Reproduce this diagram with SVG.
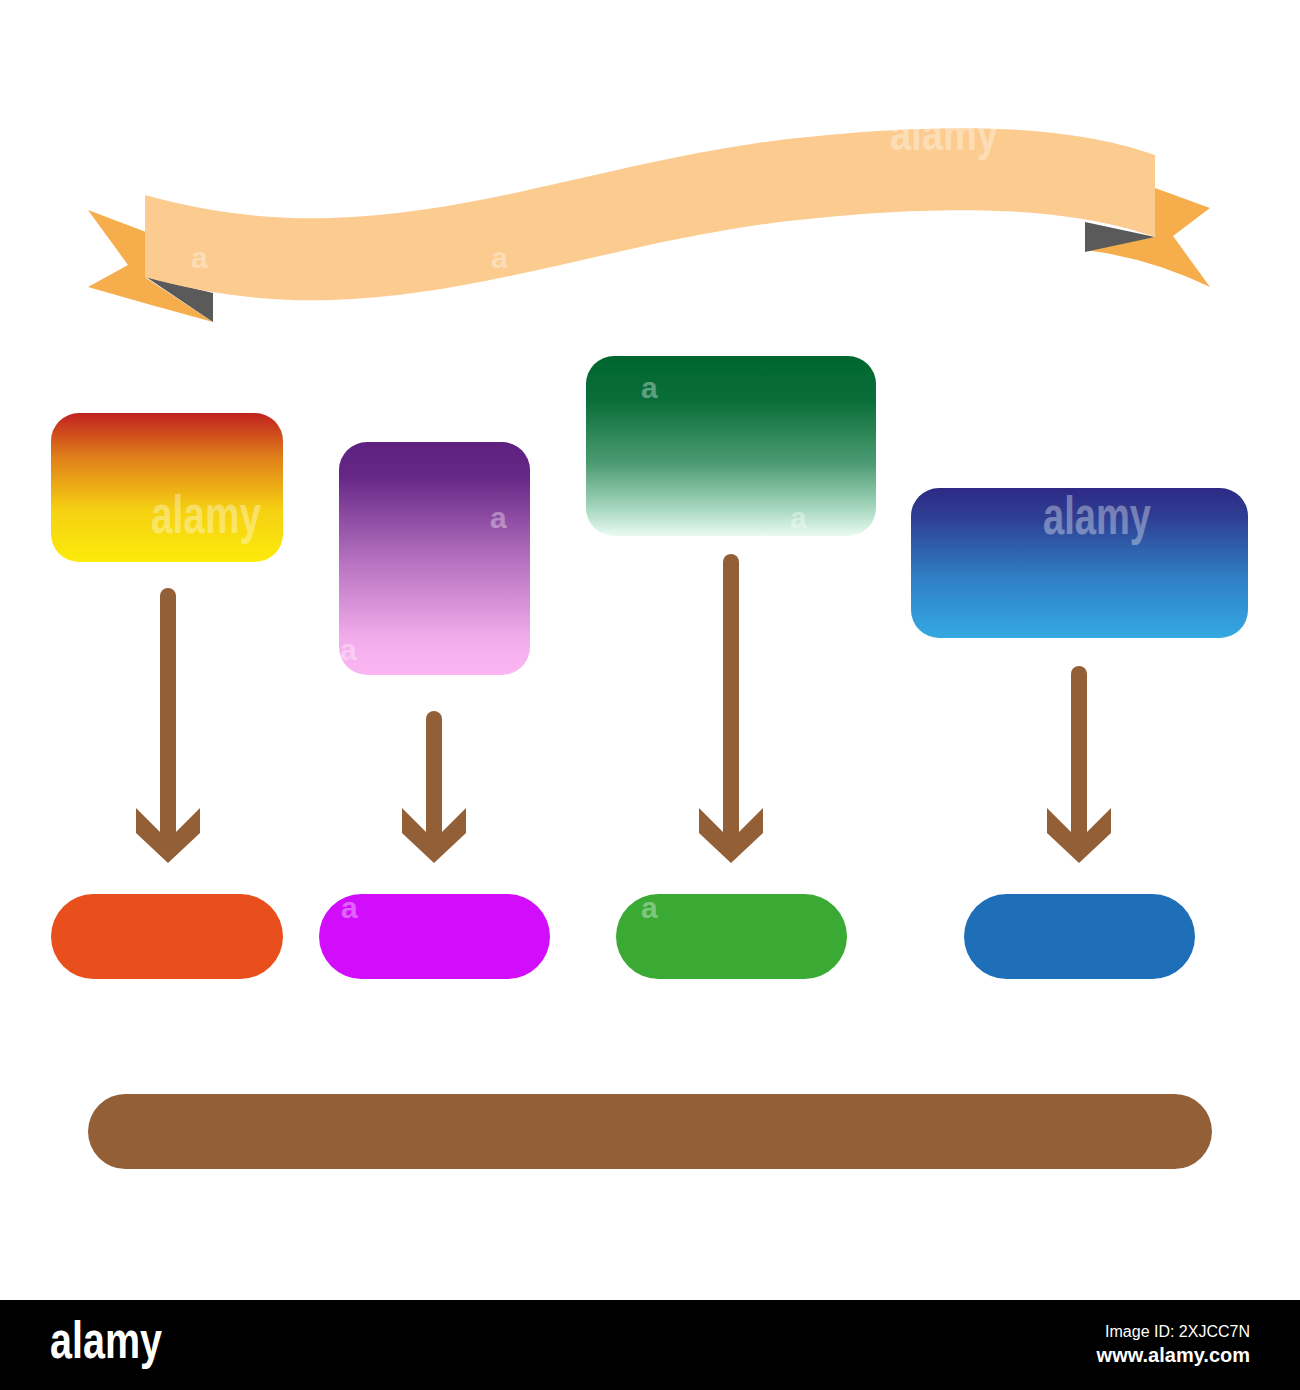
<svg xmlns="http://www.w3.org/2000/svg" width="1300" height="1390" viewBox="0 0 1300 1390">
<style>
.wm{font-family:"Liberation Sans",Arial,sans-serif;font-weight:bold;fill:#fff;opacity:0.35}
.arrow{stroke:#935F37;stroke-width:16;stroke-linecap:round;fill:none}
.head{fill:#935F37}
</style>
<defs>
<linearGradient id="gY" x1="0" y1="0" x2="0" y2="1">
<stop offset="0" stop-color="#C0211F"/><stop offset="0.3" stop-color="#E0801A"/><stop offset="0.65" stop-color="#F5D012"/><stop offset="1" stop-color="#FDEB0B"/>
</linearGradient>
<linearGradient id="gP" x1="0" y1="0" x2="0" y2="1">
<stop offset="0" stop-color="#5E2181"/><stop offset="0.15" stop-color="#662886"/><stop offset="0.5" stop-color="#B470BF"/><stop offset="0.85" stop-color="#F4ADEC"/><stop offset="1" stop-color="#FBB6F3"/>
</linearGradient>
<linearGradient id="gG" x1="0" y1="0" x2="0" y2="1">
<stop offset="0" stop-color="#00662F"/><stop offset="0.25" stop-color="#0A6E3A"/><stop offset="0.6" stop-color="#4D9C73"/><stop offset="0.85" stop-color="#A8D8C0"/><stop offset="1" stop-color="#EAFBF3"/>
</linearGradient>
<linearGradient id="gB" x1="0" y1="0" x2="0" y2="1">
<stop offset="0" stop-color="#2D2A85"/><stop offset="0.2" stop-color="#2E3F93"/><stop offset="0.6" stop-color="#3080C5"/><stop offset="1" stop-color="#34A9E1"/>
</linearGradient>
<path id="band" d="M145,195 C200,210 260,220 330,218 C480,214 620,160 780,140 C880,128 960,126 1020,130 C1080,134 1120,143 1155,155 L1155,237 C1120,225 1080,216 1020,212 C960,208 880,210 780,222 C620,242 480,296 330,300 C260,302 200,292 145,277 Z"/>
<clipPath id="bandClip"><use href="#band"/></clipPath>
<polygon id="headShape" points="-32,0 0,32 32,0 32,25 0,55 -32,25"/>
</defs>
<rect width="1300" height="1390" fill="#fff"/>

<g id="ribbon">
<path d="M88,210 L146,232 L146,278 L213,322 Q150,305 88,287 L128,265 Z" fill="#F6AE4D"/>
<path d="M1155,188 L1210,208 L1173,236 L1210,287 Q1150,258 1085,250 L1155,237 Z" fill="#F6AE4D"/>
<polygon points="146,277 213,293 213,322" fill="#5A5A5A"/>
<polygon points="1085,222 1155,237 1085,252" fill="#5A5A5A"/>
<use href="#band" fill="#FCCB90"/>
<g clip-path="url(#bandClip)">
<text class="wm" x="890" y="150" font-size="46" textLength="108" lengthAdjust="spacingAndGlyphs">alamy</text>
<text class="wm" x="191" y="268" font-size="30">a</text>
<text class="wm" x="491" y="268" font-size="30">a</text>
</g>
</g>

<g id="box1">
<rect x="51" y="413" width="232" height="149" rx="28" fill="url(#gY)"/>
<text class="wm" x="151" y="533" font-size="54" textLength="110" lengthAdjust="spacingAndGlyphs">alamy</text>
</g>
<g id="box2">
<rect x="339" y="442" width="191" height="233" rx="28" fill="url(#gP)"/>
<text class="wm" x="490" y="528" font-size="30">a</text>
<text class="wm" x="340" y="660" font-size="30">a</text>
</g>
<g id="box3">
<rect x="586" y="356" width="290" height="180" rx="28" fill="url(#gG)"/>
<text class="wm" x="641" y="398" font-size="30">a</text>
<text class="wm" x="790" y="528" font-size="30">a</text>
</g>
<g id="box4">
<rect x="911" y="488" width="337" height="150" rx="28" fill="url(#gB)"/>
<text class="wm" x="1043" y="534" font-size="54" textLength="108" lengthAdjust="spacingAndGlyphs">alamy</text>
</g>

<g id="connectors">
<line class="arrow" x1="168" y1="596" x2="168" y2="845"/>
<use href="#headShape" class="head" x="168" y="808"/>
<line class="arrow" x1="434" y1="719" x2="434" y2="845"/>
<use href="#headShape" class="head" x="434" y="808"/>
<line class="arrow" x1="731" y1="562" x2="731" y2="845"/>
<use href="#headShape" class="head" x="731" y="808"/>
<line class="arrow" x1="1079" y1="674" x2="1079" y2="845"/>
<use href="#headShape" class="head" x="1079" y="808"/>
</g>

<g id="pill1"><rect x="51" y="894" width="232" height="85" rx="42.5" fill="#E84F1D"/></g>
<g id="pill2"><rect x="319" y="894" width="231" height="85" rx="42.5" fill="#D10DFB"/>
<text class="wm" x="341" y="918" font-size="30">a</text></g>
<g id="pill3"><rect x="616" y="894" width="231" height="85" rx="42.5" fill="#3BAA35"/>
<text class="wm" x="641" y="918" font-size="30">a</text></g>
<g id="pill4"><rect x="964" y="894" width="231" height="85" rx="42.5" fill="#1E6FB8"/></g>

<g id="bar">
<rect x="88" y="1094" width="1124" height="75" rx="37.5" fill="#935F37"/>
</g>

<g id="footer">
<rect x="0" y="1300" width="1300" height="90" fill="#000"/>
<text x="50" y="1358" font-family="Liberation Sans, Arial, sans-serif" font-weight="bold" font-size="52" fill="#fff" textLength="112" lengthAdjust="spacingAndGlyphs">alamy</text>
<text x="1250" y="1337" font-family="Liberation Sans, Arial, sans-serif" font-size="16" fill="#fff" text-anchor="end">Image ID: 2XJCC7N</text>
<text x="1250" y="1362" font-family="Liberation Sans, Arial, sans-serif" font-weight="bold" font-size="20" fill="#fff" text-anchor="end">www.alamy.com</text>
</g>
</svg>
